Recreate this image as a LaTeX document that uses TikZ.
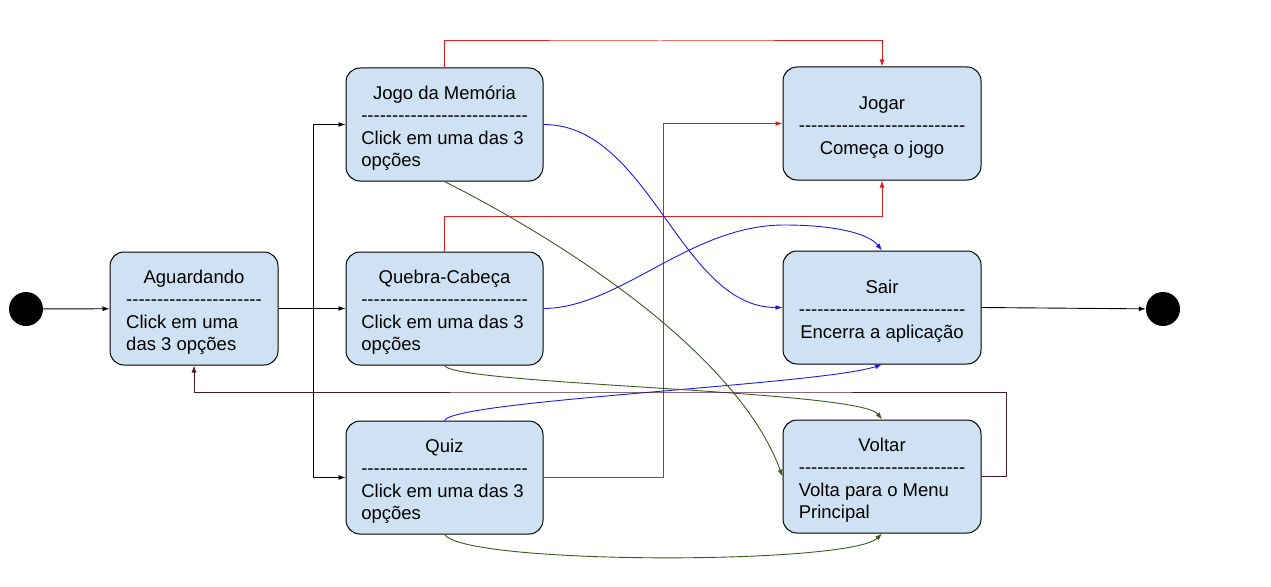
\documentclass[tikz,border=0pt]{standalone}
\usepackage{fontspec}
\setmainfont{Liberation Sans}
\usetikzlibrary{arrows.meta,calc}
\definecolor{boxblue}{HTML}{CFE2F3}
\definecolor{lred}{HTML}{E01E1E}
\definecolor{lblue}{HTML}{1A1AF0}
\definecolor{lgreen}{HTML}{3A5A1E}
\definecolor{lmaroon}{HTML}{4C1A2A}
\newcommand\dashes[1]{\foreach\i in {1,...,#1}{-}}
\newcommand\ttl[1]{\multicolumn{1}{@{}c@{}}{\rule{0pt}{24pt}#1}}
\tikzset{
  state/.style={draw=black, fill=boxblue, rounded corners=14pt, minimum width=197pt,
    minimum height=113pt, inner sep=0pt, line width=1pt,
    font=\fontsize{18.5}{22.5}\selectfont},
  dot/.style={circle, fill=black, minimum size=34pt, inner sep=0pt},
  tip/.style={-{Latex[length=7pt,width=5pt]}},
  conn/.style={tip, line width=0.9pt},
  redline/.style={conn, draw=lred, line width=1pt},
}
\begin{document}
\begin{tikzpicture}[x=1pt,y=-1pt]
\useasboundingbox (0,0) rectangle (1271,586);
\node[dot] (start) at (26,309) {};
\node[dot] (end) at (1163,309) {};
\node[state, minimum width=168pt] (aguard) at (194,308.5) {\begin{tabular}{@{}l@{}}\ttl{Aguardando}\\ \dashes{22}\\ Click em uma\\ das 3 opções\end{tabular}};
\node[state] (jogo) at (444.5,124.5) {\begin{tabular}{@{}l@{}}\ttl{Jogo da Memória}\\ \dashes{27}\\ Click em uma das 3\\ opções\end{tabular}};
\node[state] (quebra) at (444.5,308.5) {\begin{tabular}{@{}l@{}}\ttl{Quebra-Cabeça}\\ \dashes{27}\\ Click em uma das 3\\ opções\end{tabular}};
\node[state] (quiz) at (444.5,477.5) {\begin{tabular}{@{}l@{}}\ttl{Quiz}\\ \dashes{27}\\ Click em uma das 3\\ opções\end{tabular}};
\node[state, minimum width=198pt] (jogar) at (882,123.5) {\begin{tabular}{@{}c@{}}\rule{0pt}{23pt}Jogar\\ \dashes{27}\\ Começa o jogo\end{tabular}};
\node[state, minimum width=198pt] (sair) at (882,307.5) {\begin{tabular}{@{}c@{}}\rule{0pt}{23pt}Sair\\ \dashes{27}\\ Encerra a aplicação\end{tabular}};
\node[state, minimum width=198pt] (voltar) at (882,476.5) {\begin{tabular}{@{}l@{}}\ttl{Voltar}\\ \dashes{27}\\ Volta para o Menu\\ Principal\end{tabular}};
% black
\coordinate (br) at (313,308.5);
\draw[conn] (start) -- (aguard);
\draw[conn] (aguard.east) -- (quebra.west);
\draw[conn] (br) |- (jogo.west);
\draw[conn] (br) |- (quiz.west);
\draw[conn] (sair.east) -- (end);
% red
\coordinate (rq) at (663.5,477.5);
\draw[redline] (jogo.north) |- (660,41) -| (jogar.north);
\draw[redline] (quebra.north) |- (660,216.5) -| (jogar.south);
\draw[redline] (quiz.east) -- (rq) |- (jogar.west);
% blue
\draw[conn, lblue] (jogo.east) .. controls (650,124.5) and (680,307.5) .. (sair.west);
\draw[conn, lblue] (quebra.east) .. controls (620,308) and (690,225) .. (784,225) .. controls (840,225) and (870,235) .. (sair.north);
\draw[conn, lblue] (quiz.north) .. controls (455,400) and (820,385) .. (sair.south);
% green
\draw[conn, lgreen] (jogo.south) .. controls (580,250) and (740,360) .. (voltar.west);
\draw[conn, lgreen] (quebra.south) .. controls (455,385) and (860,390) .. (voltar.north);
\draw[conn, lgreen] (quiz.south) .. controls (465,565) and (850,565) .. (voltar.south);
% maroon
\draw[conn, lmaroon] (voltar.east) -- (1006,476.5) |- (700,392) -| (aguard.south);
\end{tikzpicture}
\end{document}
